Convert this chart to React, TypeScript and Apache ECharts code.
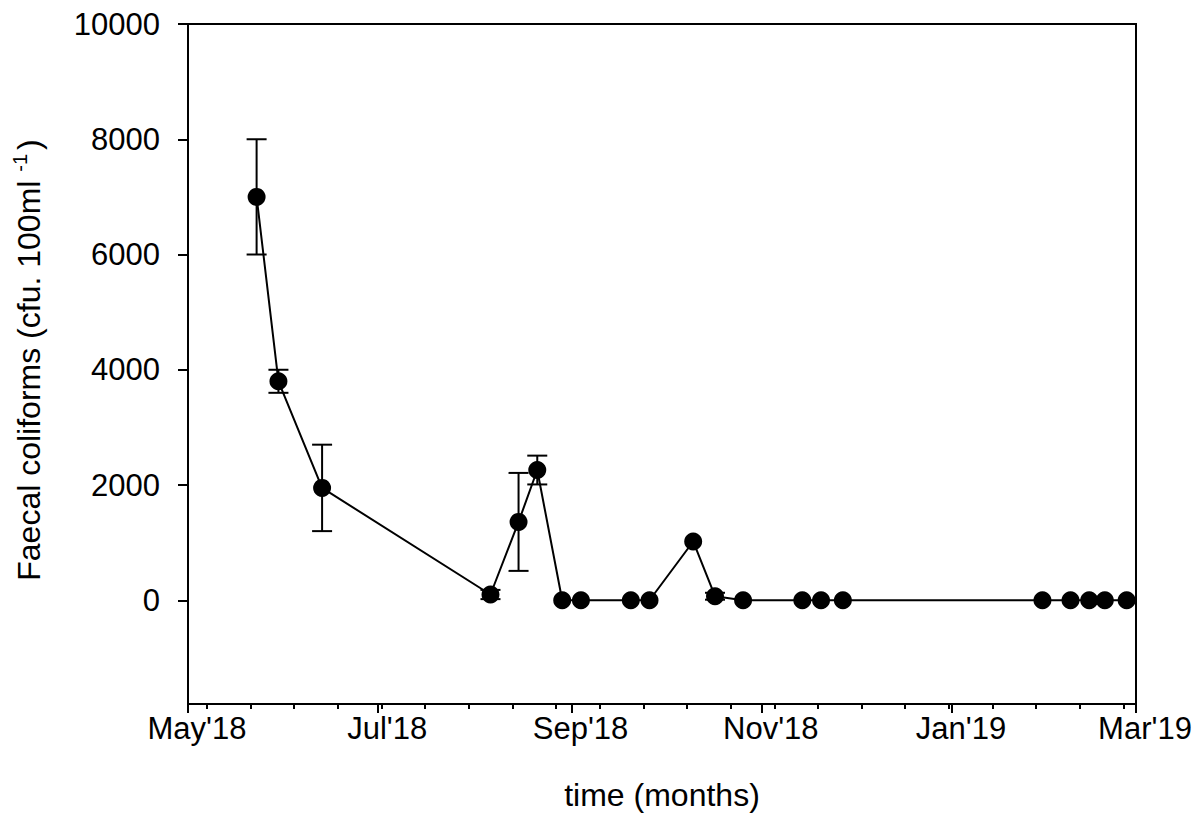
import React, { useEffect, useRef } from "react";
import * as echarts from "echarts";

const sampleDates = [
  "2018-05-23", "2018-05-30", "2018-06-13", "2018-08-06", "2018-08-15", "2018-08-21",
  "2018-08-29", "2018-09-04", "2018-09-20", "2018-09-26", "2018-10-10", "2018-10-17",
  "2018-10-26", "2018-11-14", "2018-11-20", "2018-11-27", "2019-01-30", "2019-02-08",
  "2019-02-14", "2019-02-19", "2019-02-26",
];
const coliforms = [7000, 3800, 1950, 100, 1360, 2260, 0, 0, 0, 0, 1020, 70, 0, 0, 0, 0, 0, 0, 0, 0, 0];
const errors = [1000, 200, 750, 80, 850, 250, 0, 0, 0, 0, 0, 60, 0, 0, 0, 0, 0, 0, 0, 0, 0];

const majorTickDates = ["2018-05-01", "2018-07-01", "2018-09-01", "2018-11-01", "2019-01-01", "2019-03-01"];
const minorTickDates = [
  "2018-05-07", "2018-05-21", "2018-06-04", "2018-06-18", "2018-07-02", "2018-07-16",
  "2018-07-30", "2018-08-13", "2018-08-27", "2018-09-10", "2018-09-24", "2018-10-08",
  "2018-10-22", "2018-11-05", "2018-11-19", "2018-12-03", "2018-12-17", "2018-12-31",
  "2019-01-14", "2019-01-28", "2019-02-11", "2019-02-25",
];
const yTicks = [0, 2000, 4000, 6000, 8000, 10000];
const monthNames = ["Jan", "Feb", "Mar", "Apr", "May", "Jun", "Jul", "Aug", "Sep", "Oct", "Nov", "Dec"];

const ts = (d: string) => Date.parse(d);

export default function App() {
  const ref = useRef<HTMLDivElement>(null);
  useEffect(() => {
    if (!ref.current) return;
    const chart = echarts.init(ref.current, null, { renderer: "svg" });
    const xMin = ts("2018-05-01");
    const xMax = ts("2019-03-01");
    const font = "'Liberation Sans', Arial, sans-serif";
    const pts = sampleDates.map((d, i) => [ts(d), coliforms[i]]);
    const errPts = sampleDates.map((d, i) => [ts(d), coliforms[i], errors[i]]);
    const fmt = (v: number) => {
      const dt = new Date(v);
      return monthNames[dt.getUTCMonth()] + "'" + String(dt.getUTCFullYear()).slice(2);
    };
    chart.setOption({
      animation: false,
      backgroundColor: "#fff",
      grid: {
        left: 188,
        right: 62,
        top: 24,
        bottom: 112,
        show: true,
        borderColor: "#000",
        borderWidth: 2,
        backgroundColor: "transparent",
      },
      xAxis: [
        {
          type: "value",
          min: xMin,
          max: xMax,
          position: "bottom",
          name: "time (months)",
          nameLocation: "middle",
          nameGap: 75,
          nameTextStyle: { fontFamily: font, fontSize: 32, color: "#000" },
          axisLine: { show: true, onZero: false, lineStyle: { color: "#000", width: 2 } },
          axisTick: {
            show: true,
            inside: false,
            length: 9,
            lineStyle: { color: "#000", width: 2 },
            customValues: majorTickDates.map(ts),
          },
          axisLabel: {
            show: true,
            margin: 9,
            fontFamily: font,
            fontSize: 31,
            color: "#000",
            padding: [0, 0, 0, 18],
            customValues: majorTickDates.map(ts),
            formatter: (v: number) => fmt(v),
          },
          splitLine: { show: false },
        },
        {
          type: "value",
          min: xMin,
          max: xMax,
          position: "bottom",
          offset: 0,
          axisLine: { show: false, onZero: false },
          axisTick: {
            show: true,
            inside: false,
            length: 5,
            lineStyle: { color: "#000", width: 2 },
            customValues: minorTickDates.map(ts),
          },
          axisLabel: { show: false },
          splitLine: { show: false },
        },
      ],
      yAxis: {
        type: "value",
        min: -1800,
        max: 10000,
        name: "Faecal coliforms (cfu. 100ml {sup|-1})",
        nameLocation: "middle",
        nameGap: 140,
        nameRotate: 90,
        nameTextStyle: {
          fontFamily: font,
          fontSize: 32,
          color: "#000",
          padding: [0, 0, 0, 8],
          rich: {
            sup: { fontFamily: font, fontSize: 20, color: "#000", padding: [0, 4, 18, 0] },
          },
        },
        axisLine: { show: true, onZero: false, lineStyle: { color: "#000", width: 2 } },
        axisTick: {
          show: true,
          inside: false,
          length: 10,
          lineStyle: { color: "#000", width: 2 },
          customValues: yTicks,
        },
        axisLabel: {
          show: true,
          margin: 28,
          fontFamily: font,
          fontSize: 31,
          color: "#000",
          customValues: yTicks,
          formatter: (v: number) => String(v),
        },
        splitLine: { show: false },
      },
      series: [
        {
          type: "custom",
          xAxisIndex: 0,
          yAxisIndex: 0,
          data: errPts,
          z: 2,
          renderItem: (params: any, api: any) => {
            const x = api.value(0);
            const y = api.value(1);
            const e = api.value(2);
            if (!e || e <= 0) return null;
            const top = api.coord([x, y + e]);
            const bot = api.coord([x, y - e]);
            const hw = 10;
            const st = { stroke: "#000", lineWidth: 2 };
            return {
              type: "group",
              children: [
                { type: "line", shape: { x1: top[0], y1: top[1], x2: bot[0], y2: bot[1] }, style: st },
                { type: "line", shape: { x1: top[0] - hw, y1: top[1], x2: top[0] + hw, y2: top[1] }, style: st },
                { type: "line", shape: { x1: bot[0] - hw, y1: bot[1], x2: bot[0] + hw, y2: bot[1] }, style: st },
              ],
            };
          },
        },
        {
          type: "line",
          xAxisIndex: 0,
          yAxisIndex: 0,
          data: pts,
          z: 3,
          symbol: "circle",
          symbolSize: 18,
          showSymbol: true,
          itemStyle: { color: "#000" },
          lineStyle: { color: "#000", width: 2 },
        },
      ],
    });
    return () => chart.dispose();
  }, []);
  return (
    <div
      ref={ref}
      style={{ position: "fixed", left: 0, top: 0, width: 1198, height: 816, background: "#fff" }}
    />
  );
}
